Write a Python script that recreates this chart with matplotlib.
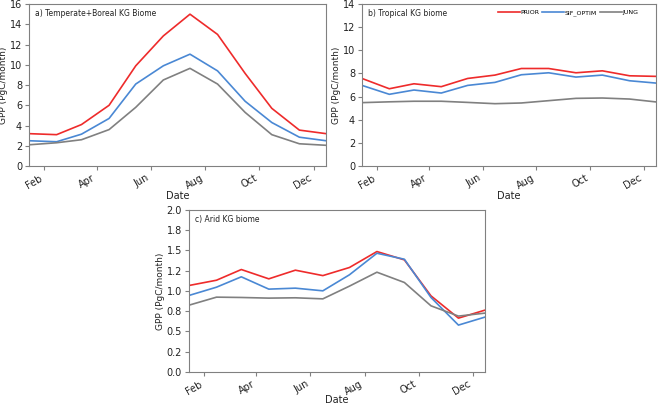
import datetime as dt
import matplotlib
matplotlib.use("Agg")
import matplotlib.pyplot as plt
import matplotlib.dates as mdates
from matplotlib.ticker import MultipleLocator, FormatStrFormatter

# monthly GPP per biome (mid-month)
months = [dt.date(2015, m, 15) for m in range(1, 13)]

temp_prior = [3.2, 3.1, 4.1, 6.0, 9.9, 12.85, 15.0, 13.0, 9.15, 5.7, 3.55, 3.2]
temp_sif = [2.5, 2.4, 3.15, 4.7, 8.1, 9.9, 11.05, 9.4, 6.4, 4.3, 2.85, 2.5]
temp_jung = [2.1, 2.3, 2.6, 3.6, 5.8, 8.5, 9.65, 8.1, 5.3, 3.1, 2.2, 2.05]

trop_prior = [7.57, 6.68, 7.11, 6.86, 7.57, 7.86, 8.43, 8.43, 8.06, 8.23, 7.8, 7.75]
trop_sif = [6.97, 6.2, 6.57, 6.31, 6.97, 7.23, 7.89, 8.06, 7.69, 7.86, 7.37, 7.17]
trop_jung = [5.48, 5.55, 5.6, 5.6, 5.5, 5.39, 5.45, 5.65, 5.85, 5.88, 5.79, 5.54]

arid_prior = [1.068, 1.133, 1.265, 1.15, 1.257, 1.19, 1.29, 1.487, 1.384, 0.94, 0.665, 0.764]
arid_sif = [0.945, 1.047, 1.175, 1.023, 1.035, 1.002, 1.2, 1.466, 1.392, 0.92, 0.579, 0.678]
arid_jung = [0.825, 0.924, 0.92, 0.912, 0.916, 0.903, 1.06, 1.232, 1.105, 0.817, 0.69, 0.727]

c_prior = '#ee2b2b'
c_sif = '#4a88d4'
c_jung = '#808080'

fig = plt.figure(figsize=(6.6, 4.05), dpi=100)
ax_a = fig.add_axes([0.044, 0.590, 0.450, 0.400])
ax_b = fig.add_axes([0.5485, 0.590, 0.4455, 0.400])
ax_c = fig.add_axes([0.2864, 0.0815, 0.4485, 0.400])

panels = [
    (ax_a, temp_prior, temp_sif, temp_jung, 'a) Temperate+Boreal KG Biome', 16, 2),
    (ax_b, trop_prior, trop_sif, trop_jung, 'b) Tropical KG biome', 14, 2),
    (ax_c, arid_prior, arid_sif, arid_jung, 'c) Arid KG biome', 2.0, 0.25),
]

for ax, pr, sif, jung, title, ymax, step in panels:
    ax.plot(months, pr, color=c_prior, lw=1.2, label='PRIOR')
    ax.plot(months, sif, color=c_sif, lw=1.2, label='SIF_OPTIM')
    ax.plot(months, jung, color=c_jung, lw=1.2, label='JUNG')
    ax.set_xlim(months[0], months[-1])
    ax.set_ylim(0, ymax)
    ax.yaxis.set_major_locator(MultipleLocator(step))
    if step < 1:
        ax.yaxis.set_major_formatter(FormatStrFormatter('%.1f'))
    ax.xaxis.set_major_locator(mdates.MonthLocator(bymonth=[2, 4, 6, 8, 10, 12]))
    ax.xaxis.set_major_formatter(mdates.DateFormatter('%b'))
    for lab in ax.get_xticklabels():
        lab.set_rotation(30)
        lab.set_ha('right')
    ax.tick_params(labelsize=7, colors='#808080', labelcolor='#222222', length=3, pad=2)
    for sp in ax.spines.values():
        sp.set_color('#808080')
    ax.set_xlabel('Date', fontsize=7, labelpad=0 if ax is not ax_c else -1.5, color='#222222')
    ax.set_ylabel('GPP (PgC/month)', fontsize=6.5, labelpad=1, color='#222222')
    ax.text(0.02, 0.97, title, transform=ax.transAxes, fontsize=5.5,
            va='top', ha='left', color='#222222')

ax_b.legend(loc='upper right', ncol=3, frameon=False, fontsize=4.5,
            handlelength=3.5, handletextpad=0.1, columnspacing=0.5,
            bbox_to_anchor=(0.96, 1.0))

fig.savefig('out.png', dpi=100)
